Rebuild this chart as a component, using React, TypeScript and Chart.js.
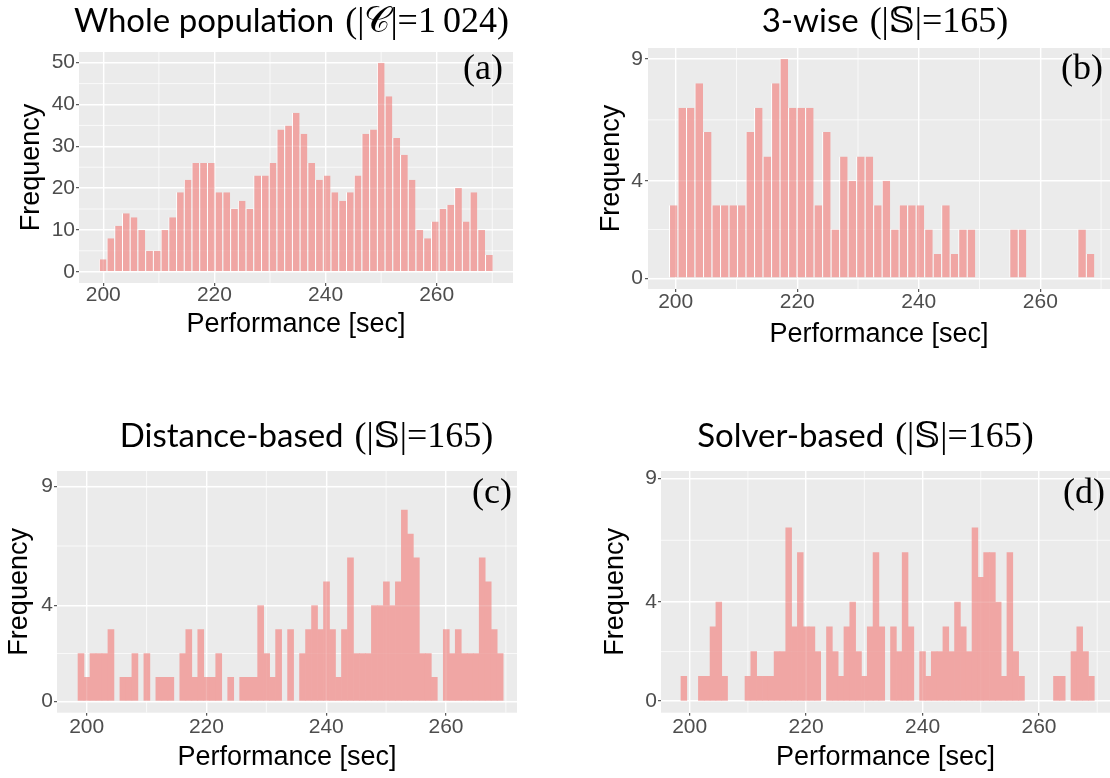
import React, { useEffect, useRef } from "react";
import { Chart, registerables } from "chart.js";

Chart.register(...registerables);

// ---- Histogram bins (left edge of the first bin and bin width, seconds) ----
const WHOLE_BIN_START = 199.2;
const WHOLE_BIN_WIDTH = 1.39;
const THREEWISE_BIN_START = 198.9;
const THREEWISE_BIN_WIDTH = 1.4;
const DISTANCE_BIN_START = 198.55;
const DISTANCE_BIN_WIDTH = 1.0;
const SOLVER_BIN_START = 198.5;
const SOLVER_BIN_WIDTH = 1.0;

// ---- Frequencies per bin ----
const WHOLE_COUNTS = [
  3, 8, 11, 14, 13, 10, 5, 5, 10, 13, 19, 22, 26, 26, 26, 19, 19, 15, 17, 15,
  23, 23, 26, 34, 35, 38, 33, 26, 22, 23, 19, 17, 19, 23, 33, 34, 50, 42, 32, 28,
  22, 10, 8, 12, 15, 16, 20, 12, 19, 10, 4,
];
const THREEWISE_COUNTS = [
  3, 7, 7, 8, 6, 3, 3, 3, 3, 6, 7, 5, 8, 9, 7, 7, 7, 3, 6, 2,
  5, 4, 5, 5, 3, 4, 2, 3, 3, 3, 2, 1, 3, 1, 2, 2, 0, 0, 0, 0,
  2, 2, 0, 0, 0, 0, 0, 0, 2, 1,
];
const DISTANCE_COUNTS = [
  2, 1, 2, 2, 2, 3, 0, 1, 1, 2, 0, 2, 0, 1, 1, 1, 0, 2, 3, 1,
  3, 1, 1, 2, 0, 1, 0, 1, 1, 1, 4, 2, 1, 3, 0, 3, 0, 2, 3, 4,
  3, 5, 3, 1, 3, 6, 2, 2, 2, 4, 4, 5, 4, 5, 8, 7, 6, 2, 2, 1,
  0, 3, 2, 3, 2, 2, 2, 6, 5, 3, 2,
];
const SOLVER_COUNTS = [
  1, 0, 0, 1, 1, 3, 4, 1, 0, 0, 0, 1, 2, 1, 1, 1, 2, 2, 7, 3,
  6, 3, 3, 2, 0, 3, 2, 1, 3, 4, 2, 1, 3, 6, 3, 0, 3, 2, 6, 3,
  0, 2, 1, 2, 2, 3, 2, 4, 3, 2, 7, 5, 6, 6, 4, 1, 6, 2, 1, 0,
  0, 0, 0, 0, 1, 1, 0, 2, 3, 2, 1,
];

// ---- Axis breaks ----
const X_TICKS = [200, 220, 240, 260];
const X_MINOR = [210, 230, 250, 270];
const WHOLE_Y_TICKS = [0, 10, 20, 30, 40, 50];
const WHOLE_Y_MINOR = [5, 15, 25, 35, 45];
const SAMPLE_Y_TICKS = [0, 4, 9];
const SAMPLE_Y_MINOR = [2, 6.5];

// ---- Styling ----
const PANEL_BG = "#EBEBEB";
const BAR_FILL = "#F0A6A4";
const TICK_COLOR = "#4D4D4D";
const SANS = "'Liberation Sans', Arial, sans-serif";
const TITLE_SANS = "Lato, 'Open Sans', sans-serif";
const SERIF = "'Liberation Serif', 'DejaVu Serif', serif";

type Box = { left: number; top: number; width: number; height: number };
type Area = { left: number; top: number; right: number; bottom: number };

type Panel = {
  tag: string;
  titleText: string;
  titleMath: string;
  counts: number[];
  binStart: number;
  binWidth: number;
  xRange: [number, number];
  yRange: [number, number];
  yTicks: number[];
  yMinor: number[];
  outline: boolean;
  box: Box;
  area: Area;
  titleCenter: number;
  titleBaseline: number;
  tagRight: number;
  tagBaseline: number;
  yTitleX: number;
  xTitleY: number;
  xTickPad: number;
  yTickPad: number;
};

const PANELS: Panel[] = [
  {
    tag: "a",
    titleText: "Whole population",
    titleMath: "(|\u{1D49E}|=1\u2009024)",
    counts: WHOLE_COUNTS,
    binStart: WHOLE_BIN_START,
    binWidth: WHOLE_BIN_WIDTH,
    xRange: [195.63, 273.73],
    yRange: [-2.7, 52.56],
    yTicks: WHOLE_Y_TICKS,
    yMinor: WHOLE_Y_MINOR,
    outline: true,
    box: { left: 0, top: 0, width: 555, height: 389 },
    area: { left: 79, top: 52, right: 513, bottom: 283 },
    titleCenter: 291.5,
    titleBaseline: 32,
    tagRight: 503,
    tagBaseline: 79,
    yTitleX: 31.5,
    xTitleY: 324.4,
    xTickPad: -1,
    yTickPad: 1,
  },
  {
    tag: "b",
    titleText: "3-wise",
    titleMath: "(|\u{1D54A}|=165)",
    counts: THREEWISE_COUNTS,
    binStart: THREEWISE_BIN_START,
    binWidth: THREEWISE_BIN_WIDTH,
    xRange: [195.44, 271.47],
    yRange: [-0.44, 9.45],
    yTicks: SAMPLE_Y_TICKS,
    yMinor: SAMPLE_Y_MINOR,
    outline: true,
    box: { left: 555, top: 0, width: 555, height: 389 },
    area: { left: 648, top: 48, right: 1110, bottom: 289 },
    titleCenter: 885,
    titleBaseline: 32,
    tagRight: 1103,
    tagBaseline: 79,
    yTitleX: 612,
    xTitleY: 334.4,
    xTickPad: 0,
    yTickPad: 2,
  },
  {
    tag: "c",
    titleText: "Distance-based",
    titleMath: "(|\u{1D54A}|=165)",
    counts: DISTANCE_COUNTS,
    binStart: DISTANCE_BIN_START,
    binWidth: DISTANCE_BIN_WIDTH,
    xRange: [195.04, 271.86],
    yRange: [-0.48, 9.64],
    yTicks: SAMPLE_Y_TICKS,
    yMinor: SAMPLE_Y_MINOR,
    outline: false,
    box: { left: 0, top: 389, width: 555, height: 389 },
    area: { left: 57, top: 471, right: 517, bottom: 712.7 },
    titleCenter: 306.5,
    titleBaseline: 447.3,
    tagRight: 512,
    tagBaseline: 503,
    yTitleX: 20,
    xTitleY: 757.7,
    xTickPad: 1,
    yTickPad: 1,
  },
  {
    tag: "d",
    titleText: "Solver-based",
    titleMath: "(|\u{1D54A}|=165)",
    counts: SOLVER_COUNTS,
    binStart: SOLVER_BIN_START,
    binWidth: SOLVER_BIN_WIDTH,
    xRange: [195.07, 272.2],
    yRange: [-0.47, 9.3],
    yTicks: SAMPLE_Y_TICKS,
    yMinor: SAMPLE_Y_MINOR,
    outline: false,
    box: { left: 555, top: 389, width: 555, height: 389 },
    area: { left: 661, top: 471, right: 1110, bottom: 712.7 },
    titleCenter: 865.5,
    titleBaseline: 447.3,
    tagRight: 1105,
    tagBaseline: 503,
    yTitleX: 616,
    xTitleY: 757.7,
    xTickPad: 1,
    yTickPad: 1,
  },
];

// Background, minor grid, faint grid over bars, title and panel tag.
function makeDecor(p: Panel) {
  const gridLines = (chart: any, alphaMajor: number, alphaMinor: number) => {
    const { ctx, chartArea: a, scales } = chart;
    const x = scales.x;
    const y = scales.y;
    const draw = (values: number[], vertical: boolean, width: number, alpha: number) => {
      ctx.strokeStyle = `rgba(255,255,255,${alpha})`;
      ctx.lineWidth = width;
      values.forEach((v) => {
        if (vertical) {
          const px = x.getPixelForValue(v);
          if (px < a.left || px > a.right) return;
          ctx.beginPath();
          ctx.moveTo(px, a.top);
          ctx.lineTo(px, a.bottom);
          ctx.stroke();
        } else {
          const py = y.getPixelForValue(v);
          if (py < a.top || py > a.bottom) return;
          ctx.beginPath();
          ctx.moveTo(a.left, py);
          ctx.lineTo(a.right, py);
          ctx.stroke();
        }
      });
    };
    ctx.save();
    ctx.beginPath();
    ctx.rect(a.left, a.top, a.right - a.left, a.bottom - a.top);
    ctx.clip();
    draw(X_MINOR, true, 0.7, alphaMinor);
    draw(p.yMinor, false, 0.7, alphaMinor);
    if (alphaMajor > 0) {
      draw(X_TICKS, true, 1.4, alphaMajor);
      draw(p.yTicks, false, 1.4, alphaMajor);
    }
    ctx.restore();
  };

  return {
    id: `decor-${p.tag}`,
    beforeDraw(chart: any) {
      const { ctx, chartArea: a } = chart;
      ctx.save();
      ctx.fillStyle = PANEL_BG;
      ctx.fillRect(a.left, a.top, a.right - a.left, a.bottom - a.top);
      ctx.restore();
      gridLines(chart, 0, 1);
    },
    afterDatasetsDraw(chart: any) {
      gridLines(chart, 0.14, 0.08);
    },
    afterDraw(chart: any) {
      const { ctx } = chart;
      ctx.save();
      ctx.fillStyle = "#000000";
      ctx.textBaseline = "alphabetic";
      const sansFont = `33px ${TITLE_SANS}`;
      const mathFont = `36px ${SERIF}`;
      ctx.font = sansFont;
      const w1 = ctx.measureText(p.titleText).width;
      ctx.font = mathFont;
      const w2 = ctx.measureText(p.titleMath).width;
      const gap = 11;
      const x0 = p.titleCenter - p.box.left - (w1 + gap + w2) / 2;
      const y0 = p.titleBaseline - p.box.top;
      ctx.textAlign = "left";
      ctx.font = sansFont;
      ctx.fillText(p.titleText, x0, y0);
      ctx.font = mathFont;
      ctx.fillText(p.titleMath, x0 + w1 + gap, y0);
      ctx.textAlign = "right";
      ctx.font = `36px ${SERIF}`;
      ctx.fillText(`(${p.tag})`, p.tagRight - p.box.left, p.tagBaseline - p.box.top);
      ctx.restore();
    },
  };
}

function buildConfig(p: Panel): any {
  // empty bins stay empty (no zero-height sliver)
  const points = p.counts.map((c, i) => ({
    x: p.binStart + p.binWidth * (i + 0.5),
    y: c === 0 ? null : c,
  }));
  const lh = 27;
  return {
    type: "bar",
    data: {
      datasets: [
        {
          data: points,
          backgroundColor: BAR_FILL,
          borderColor: "#FFFFFF",
          borderWidth: p.outline ? { left: 1, right: 0, top: 0, bottom: 0 } : 0,
          borderSkipped: false,
          barPercentage: 1,
          categoryPercentage: 1,
          inflateAmount: p.outline ? 0 : "auto",
        },
      ],
    },
    options: {
      animation: false,
      responsive: false,
      maintainAspectRatio: false,
      events: [],
      layout: {
        padding: {
          left: 0,
          top: p.area.top - p.box.top,
          right: p.box.left + p.box.width - p.area.right,
          bottom: 0,
        },
      },
      plugins: {
        legend: { display: false },
        tooltip: { enabled: false },
        title: { display: false },
      },
      scales: {
        x: {
          type: "linear",
          min: p.xRange[0],
          max: p.xRange[1],
          offset: false,
          afterBuildTicks: (s: any) => {
            s.ticks = X_TICKS.map((v) => ({ value: v }));
          },
          afterFit: (s: any) => {
            s.height = p.box.top + p.box.height - p.area.bottom;
          },
          grid: {
            offset: false,
            color: "#FFFFFF",
            lineWidth: 1.4,
            tickColor: "#333333",
            tickWidth: 1,
            tickLength: 3,
          },
          border: { display: false },
          ticks: {
            color: TICK_COLOR,
            font: { family: SANS, size: 21, lineHeight: 1 },
            padding: p.xTickPad,
            autoSkip: false,
            maxRotation: 0,
            minRotation: 0,
          },
          title: {
            display: true,
            text: "Performance [sec]",
            color: "#000000",
            font: { family: SANS, size: 27, lineHeight: 1 },
            padding: { top: 0, bottom: p.box.top + p.box.height - p.xTitleY - lh / 2 },
          },
        },
        y: {
          type: "linear",
          min: p.yRange[0],
          max: p.yRange[1],
          afterBuildTicks: (s: any) => {
            s.ticks = p.yTicks.map((v) => ({ value: v }));
          },
          afterFit: (s: any) => {
            s.width = p.area.left - p.box.left;
          },
          grid: {
            color: "#FFFFFF",
            lineWidth: 1.4,
            tickColor: "#333333",
            tickWidth: 1,
            tickLength: 3,
          },
          border: { display: false },
          ticks: {
            color: TICK_COLOR,
            font: { family: SANS, size: 21, lineHeight: 1 },
            padding: p.yTickPad,
            autoSkip: false,
          },
          title: {
            display: true,
            text: "Frequency",
            color: "#000000",
            font: { family: SANS, size: 27, lineHeight: 1 },
            padding: { top: p.yTitleX - p.box.left - lh / 2, bottom: 0 },
          },
        },
      },
    },
    plugins: [makeDecor(p)],
  };
}

function HistogramPanel({ panel }: { panel: Panel }) {
  const ref = useRef<HTMLCanvasElement | null>(null);
  useEffect(() => {
    const canvas = ref.current;
    if (!canvas) return;
    const chart = new Chart(canvas, buildConfig(panel));
    return () => chart.destroy();
  }, [panel]);
  return (
    <canvas
      ref={ref}
      width={panel.box.width}
      height={panel.box.height}
      style={{
        position: "absolute",
        left: panel.box.left,
        top: panel.box.top,
        width: panel.box.width,
        height: panel.box.height,
      }}
    />
  );
}

export default function App() {
  return (
    <div
      style={{
        position: "absolute",
        left: 0,
        top: 0,
        width: 1110,
        height: 778,
        background: "#FFFFFF",
        overflow: "hidden",
      }}
    >
      {PANELS.map((p) => (
        <HistogramPanel key={p.tag} panel={p} />
      ))}
    </div>
  );
}
